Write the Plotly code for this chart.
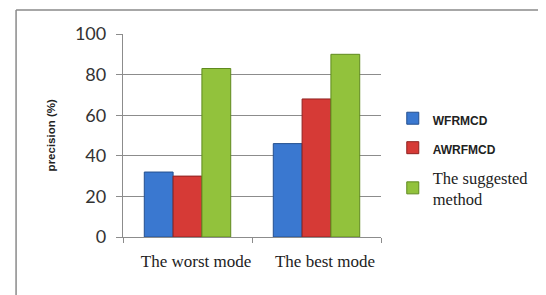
import plotly.graph_objects as go

categories = ["The worst mode", "The best mode"]
wfrmcd = [32, 46]
awrfmcd = [30, 68]
suggested = [83, 90]
y_ticks = [0, 20, 40, 60, 80, 100]

# the page body has an 8px margin, so figure coords = page coords - 8
OFF = 8
W, H = 546 - OFF, 295 - OFF
L, T = 123 - OFF, 34 - OFF
R = W - (386 - OFF)
B = H - (237 - OFF)
pw, ph = W - L - R, H - T - B

def px(x):
    return (x - OFF - L) / pw

def py(y):
    return (H - B - (y - OFF)) / ph

fig = go.Figure()
small = '<span style="font-family:Liberation Sans;font-size:12px"><b>{}</b></span>'
serif = '<span style="font-family:Liberation Serif;font-size:16.5px">{}</span>'
series = [
    (small.format("WFRMCD"), wfrmcd, "#3a78d0", "#24508f"),
    (small.format("AWRFMCD"), awrfmcd, "#d63a36", "#8f2220"),
    (serif.format("The suggested") + "<br>" + serif.format("method"),
     suggested, "#92c23c", "#5f8a1f"),
]
for i, (name, vals, col, lc) in enumerate(series):
    fig.add_trace(go.Bar(x=categories, y=vals, name=name, legendgroup=str(i),
                         marker=dict(color=col, line=dict(color=lc, width=1))))

fig.update_layout(
    width=W, height=H,
    margin=dict(l=L, r=R, t=T, b=B),
    paper_bgcolor="white", plot_bgcolor="white",
    barmode="group", bargap=0.33, bargroupgap=0,
    showlegend=True,
    legend=dict(x=px(398), y=py(101), xanchor="left", yanchor="top",
                font=dict(family="Liberation Serif", size=16.5, color="#222"),
                tracegroupgap=5, itemwidth=30, bgcolor="rgba(0,0,0,0)"),
    font=dict(family="Liberation Sans", color="#222"),
)
fig.update_yaxes(range=[0, 100], tickvals=y_ticks, showgrid=True, gridcolor="#8c8c8c",
                 gridwidth=1.3, showline=True, linecolor="#8c8c8c", linewidth=1.3,
                 ticks="outside", ticklen=6, tickcolor="#8c8c8c", ticklabelstandoff=6,
                 automargin=False,
                 tickfont=dict(family="Lato", size=18, color="#333"), zeroline=False)
fig.update_xaxes(showline=True, linecolor="#8c8c8c", linewidth=1.3,
                 ticks="outside", tickson="boundaries", ticklen=5, tickcolor="#8c8c8c",
                 ticklabelstandoff=8, tickangle=0, automargin=False,
                 tickvals=categories,
                 ticktext=["\u00a0" * 4 + c for c in categories],
                 tickfont=dict(family="Liberation Serif", size=17, color="#222"))

fig.add_annotation(text="<b>precision (%)</b>", xref="paper", yref="paper",
                   x=px(50), y=py(135), xanchor="center", yanchor="middle",
                   textangle=-90, showarrow=False,
                   font=dict(family="Liberation Sans", size=11.5, color="#222"))

fig.add_shape(type="line", xref="paper", yref="paper", x0=px(14), x1=px(14),
              y0=py(300), y1=py(10), line=dict(color="#8a8a8a", width=1.5))
fig.add_shape(type="line", xref="paper", yref="paper", x0=px(14), x1=px(560),
              y0=py(10), y1=py(10), line=dict(color="#8a8a8a", width=1.5))

fig.write_html("out.html")
